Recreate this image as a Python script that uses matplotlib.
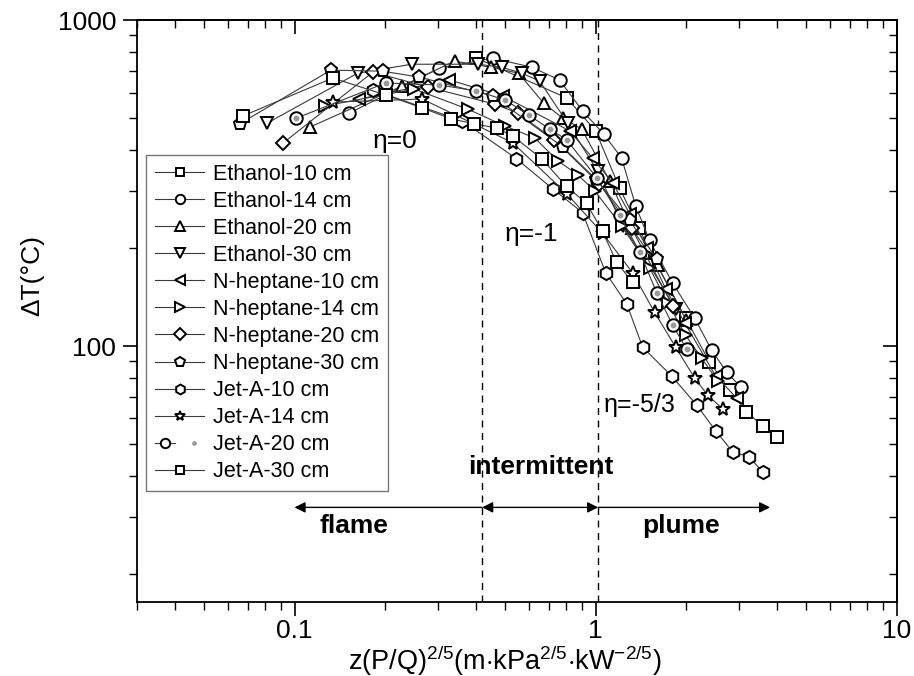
import matplotlib
matplotlib.use("Agg")
import matplotlib.pyplot as plt
import matplotlib.ticker as mticker
from matplotlib.legend_handler import HandlerTuple

plt.rcParams['font.family'] = ['Liberation Sans', 'DejaVu Sans']
plt.rcParams['mathtext.fontset'] = 'custom'
plt.rcParams['mathtext.rm'] = 'Liberation Sans'
plt.rcParams['mathtext.it'] = 'Liberation Sans:italic'
plt.rcParams['mathtext.bf'] = 'Liberation Sans:bold'

# ---------------- data ----------------
labels = ['Ethanol-10 cm', 'Ethanol-14 cm', 'Ethanol-20 cm', 'Ethanol-30 cm',
          'N-heptane-10 cm', 'N-heptane-14 cm', 'N-heptane-20 cm', 'N-heptane-30 cm',
          'Jet-A-10 cm', 'Jet-A-14 cm', 'Jet-A-20 cm', 'Jet-A-30 cm']

eth10_x = [0.402, 0.801, 1.0, 1.201, 1.39, 1.57, 1.99, 2.39, 2.79, 3.17, 3.59, 3.99]
eth10_y = [765, 578, 458, 306, 231, 183, 122, 89.4, 73.3, 62.8, 56.9, 52.7]

eth14_x = [0.152, 0.303, 0.455, 0.613, 0.759, 0.905, 1.063, 1.22, 1.358, 1.511, 1.803, 2.133, 2.429, 2.724, 3.032]
eth14_y = [519, 713, 765, 718, 656, 527, 448, 378, 270, 211, 156, 122, 97.2, 83.3, 74.9]

eth20_x = [0.113, 0.227, 0.34, 0.448, 0.555, 0.672, 0.777, 0.899, 1.113, 1.317, 1.607, 2.0]
eth20_y = [471, 628, 749, 718, 688, 557, 501, 464, 322, 230, 177, 120]

eth30_x = [0.0813, 0.162, 0.245, 0.406, 0.487, 0.568, 0.652, 0.807, 1.015, 1.229, 1.511, 1.845]
eth30_y = [484, 688, 733, 733, 718, 688, 651, 484, 345, 234, 177, 130]

hep10_x = [0.164, 0.327, 0.491, 0.82, 0.977, 1.139, 1.297, 1.48, 1.708, 1.976, 2.505, 2.941]
hep10_y = [573, 656, 586, 458, 378, 317, 255, 200, 150, 118, 81.0, 69.3]

hep14_x = [0.126, 0.25, 0.376, 0.499, 0.627, 0.748, 0.871, 0.992, 1.22, 1.511, 1.735, 1.991, 2.25, 2.55]
hep14_y = [546, 615, 534, 474, 436, 371, 336, 300, 234, 174, 136, 108, 91.9, 78]

hep20_x = [0.0919, 0.182, 0.277, 0.462, 0.551, 0.73, 1.03, 1.317, 1.803]
hep20_y = [421, 693, 624, 553, 519, 430, 315, 230, 133]

hep30_x = [0.0657, 0.132, 0.196, 0.26, 0.455, 0.777, 1.0, 1.297, 1.6]
hep30_y = [481, 703, 698, 669, 586, 409, 326, 243, 185]

jet10_x = [0.182, 0.361, 0.546, 0.72, 0.905, 1.08, 1.268, 1.433, 1.788, 2.165, 2.505, 2.852, 3.223, 3.587]
jet10_y = [611, 491, 376, 304, 257, 168, 135, 99.3, 81.0, 66.0, 55.0, 47.4, 45.8, 41.2]

jet14_x = [0.134, 0.266, 0.53, 0.801, 1.055, 1.327, 1.57, 1.845, 2.133, 2.356, 2.642]
jet14_y = [561, 573, 421, 294, 222, 168, 127, 99.3, 79.8, 70.8, 64.2]

jet20_x = [0.1015, 0.2006, 0.303, 0.402, 0.502, 0.599, 0.704, 0.801, 1.008, 1.201, 1.4, 1.595, 1.803, 2.005]
jet20_y = [501, 642, 633, 607, 569, 512, 464, 430, 329, 252, 195, 146, 116, 97.9]

jet30_x = [0.0672, 0.134, 0.2006, 0.266, 0.332, 0.396, 0.469, 0.53, 0.662, 0.801, 0.934, 1.055, 1.174, 1.327]
jet30_y = [508, 665, 590, 538, 498, 481, 467, 442, 376, 309, 274, 225, 181, 157]

series_x = [eth10_x, eth14_x, eth20_x, eth30_x, hep10_x, hep14_x, hep20_x, hep30_x,
            jet10_x, jet14_x, jet20_x, jet30_x]
series_y = [eth10_y, eth14_y, eth20_y, eth30_y, hep10_y, hep14_y, hep20_y, hep30_y,
            jet10_y, jet14_y, jet20_y, jet30_y]
markers = ['s', 'o', '^', 'v', '<', '>', 'D', 'p', 'h', '*', 'o', 's']
msizes = [8, 9, 9, 9, 9, 9, 7.5, 9.5, 9.5, 10, 9, 8]

flame_regions = ['flame', 'intermittent', 'plume']
region_bounds = [0.1, 0.42, 1.02, 3.8]
eta_labels = ['\u03b7=0', '\u03b7=-1', '\u03b7=-5/3']

# ---------------- figure ----------------
fig = plt.figure(figsize=(9.14, 6.76), dpi=100)
ax = fig.add_axes([0.150, 0.1095, 0.831, 0.8605])

handles = []
for i in range(12):
    ln, = ax.plot(series_x[i], series_y[i], color='#3a3a3a', lw=0.8,
                  marker=markers[i], ms=msizes[i], mfc='white', mec='black',
                  mew=1.4, zorder=3)
    if i == 10:
        dot, = ax.plot(series_x[i], series_y[i], ls='none', marker='o', ms=3.2,
                       mfc='#9a9a9a', mec='#9a9a9a', zorder=4)
        handles.append((ln, dot))
    else:
        handles.append(ln)

ax.set_xscale('log')
ax.set_yscale('log')
ax.set_xlim(0.03, 10)
ax.set_ylim(16.4, 1000)

# dashed region boundaries
for xv in region_bounds[1:3]:
    ax.axvline(xv, color='black', ls=(0, (5, 4)), lw=1.0, zorder=2)

# arrows
ya = 32
arr = dict(color='black', lw=1.0, mutation_scale=16, shrinkA=0, shrinkB=0)
ax.annotate('', xy=(region_bounds[0], ya), xytext=(region_bounds[1], ya),
            arrowprops=dict(arrowstyle='-|>', **arr))
ax.annotate('', xy=(region_bounds[1], ya), xytext=(region_bounds[2], ya),
            arrowprops=dict(arrowstyle='<|-|>', **arr))
ax.annotate('', xy=(region_bounds[3], ya), xytext=(region_bounds[2], ya),
            arrowprops=dict(arrowstyle='-|>', **arr))

ax.text(0.158, 28.0, flame_regions[0], ha='center', va='center', fontsize=19, fontweight='bold')
ax.text(0.656, 42.5, flame_regions[1], ha='center', va='center', fontsize=19, fontweight='bold')
ax.text(1.93, 28.0, flame_regions[2], ha='center', va='center', fontsize=19, fontweight='bold')

ax.text(0.215, 427, eta_labels[0], ha='center', va='center', fontsize=19)
ax.text(0.613, 221, eta_labels[1], ha='center', va='center', fontsize=19)
ax.text(1.40, 66, eta_labels[2], ha='center', va='center', fontsize=18)

# ticks: bottom/left outward, top/right inward
ax.tick_params(axis='both', which='major', labelsize=19, width=1.2, length=10, direction='out')
ax.tick_params(axis='both', which='minor', width=1.0, length=6, direction='out')
ax.tick_params(axis='y', which='major', pad=5)
ax.tick_params(axis='x', which='major', pad=2)
fmt = mticker.FuncFormatter(lambda v, p: ('%g' % v))
ax.xaxis.set_major_formatter(fmt)
ax.yaxis.set_major_formatter(fmt)
ax.yaxis.set_minor_formatter(mticker.NullFormatter())
ax.xaxis.set_minor_formatter(mticker.NullFormatter())

top = ax.secondary_xaxis('top')
top.tick_params(axis='x', which='major', direction='in', length=10, width=1.2, labeltop=False)
top.tick_params(axis='x', which='minor', direction='in', length=6, width=1.0)
top.xaxis.set_minor_formatter(mticker.NullFormatter())
right = ax.secondary_yaxis('right')
right.tick_params(axis='y', which='major', direction='in', length=10, width=1.2, labelright=False)
right.tick_params(axis='y', which='minor', direction='in', length=6, width=1.0)
right.yaxis.set_minor_formatter(mticker.NullFormatter())

for s in ax.spines.values():
    s.set_linewidth(1.3)
for sec in (top, right):
    for s in sec.spines.values():
        s.set_linewidth(1.3)

xl = ax.set_xlabel(r'$\mathrm{z(P/Q)^{2/5}(m{\cdot}kPa^{2/5}{\cdot}kW^{-2/5})}$', fontsize=19.5)
xl.set_va('top')
ax.xaxis.set_label_coords(0.484, -0.071)
ax.set_ylabel('\u0394T(\u00b0C)', fontsize=19)
ax.yaxis.set_label_coords(-0.122, 0.562)

leg = ax.legend(handles, labels, loc='upper left', bbox_to_anchor=(0.012, 0.768),
                borderaxespad=0, fontsize=15.5, frameon=True, fancybox=False,
                edgecolor='#555555', handlelength=2.3, handletextpad=0.4,
                labelspacing=0.28, borderpad=0.4, markerscale=0.75,
                handler_map={tuple: HandlerTuple(ndivide=None)})
leg.get_frame().set_linewidth(1.0)
leg.set_zorder(5)

fig.savefig('out.png', dpi=100)
